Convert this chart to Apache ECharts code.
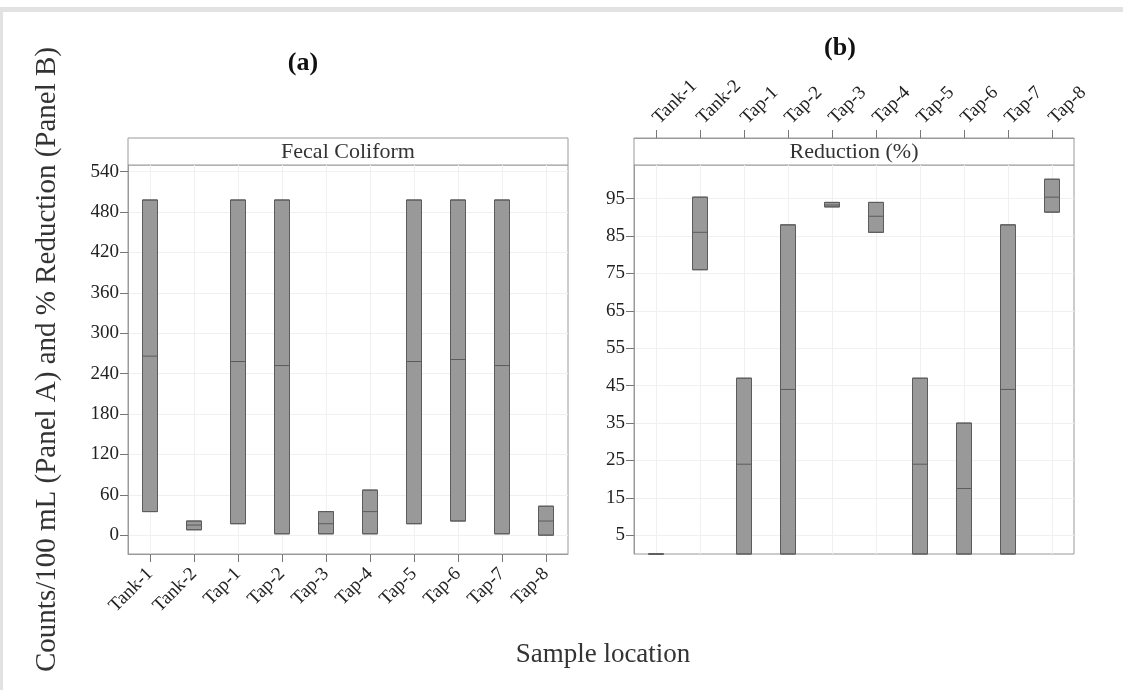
<!DOCTYPE html>
<html>
<head>
<meta charset="utf-8">
<script src="https://cdn.jsdelivr.net/npm/echarts@6/dist/echarts.min.js"></script>
<style>
  html, body { margin: 0; padding: 0; background: #fff; }
  #chart { width: 1123px; height: 690px; }
</style>
</head>
<body>
<div id="chart"></div>
<script>
// sample locations (same order in both panels)
const categories = ["Tank-1", "Tank-2", "Tap-1", "Tap-2", "Tap-3", "Tap-4", "Tap-5", "Tap-6", "Tap-7", "Tap-8"]

// panel (a): fecal coliform counts/100 mL  (low, median, high)
const fecalLow = [35, 8, 17, 2, 2, 2, 17, 21, 2, 0]
const fecalMedian = [266, 15, 258, 252, 17, 35, 258, 261, 252, 21]
const fecalHigh = [498, 21, 498, 498, 35, 67, 498, 498, 498, 43]
const fecalTicks = [0, 60, 120, 180, 240, 300, 360, 420, 480, 540]

// panel (b): reduction (%)  (low, median, high)
const reductionLow = [0, 76, 0, 0, 92.8, 86, 0, 0, 0, 91.4]
const reductionMedian = [0, 86, 24, 44, 93.3, 90.3, 24, 17.5, 44, 95.4]
const reductionHigh = [0, 95.4, 47, 88, 94, 94, 47, 35, 88, 100.2]
const reductionTicks = [5, 15, 25, 35, 45, 55, 65, 75, 85, 95]

const FONT = "Liberation Serif"
const BORDER = "#9a9a9a"
const GRID_LINE = "#f0f0f0"

// box = [min, Q1, median, Q3, max] with no whiskers
const toBoxes = (lo, med, hi) => lo.map((v, i) => [v, v, med[i], hi[i], hi[i]])

const chart = echarts.init(document.getElementById("chart"), null, { renderer: "canvas" })

const valueAxis = (gridIndex, min, max, ticks, name) => ({
  type: "value",
  gridIndex,
  min,
  max,
  name,
  nameLocation: "middle",
  nameGap: 66,
  nameTextStyle: { fontFamily: FONT, fontSize: 29, color: "#333" },
  axisLine: { show: true, onZero: false, lineStyle: { color: BORDER } },
  axisTick: { show: true, length: 8, customValues: ticks, lineStyle: { color: "#777" } },
  axisLabel: { customValues: ticks, fontFamily: FONT, fontSize: 19, color: "#222", margin: 9 },
  splitLine: { show: true, lineStyle: { color: GRID_LINE } },
})

const categoryAxis = (gridIndex, position, offset, rotate) => ({
  type: "category",
  gridIndex,
  data: categories,
  position,
  offset,
  axisLine: { show: true, onZero: false, lineStyle: { color: BORDER } },
  axisTick: { show: true, alignWithLabel: true, length: 8, lineStyle: { color: "#777" } },
  axisLabel: { rotate, fontFamily: FONT, fontSize: 19, color: "#222", margin: 17 },
  splitLine: { show: true, alignWithLabel: true, lineStyle: { color: GRID_LINE } },
})

const boxSeries = (index, data) => ({
  type: "boxplot",
  xAxisIndex: index,
  yAxisIndex: index,
  data,
  boxWidth: [15, 15],
  silent: true,
  itemStyle: { color: "#999999", borderColor: "#5c5c5c", borderWidth: 1 },
})

const strip = (x, label) => [
  {
    type: "rect",
    shape: { x, y: 138, width: 440, height: 27 },
    style: { fill: "#fff", stroke: BORDER, lineWidth: 1 },
  },
  {
    type: "text",
    x: x + 220,
    y: 152,
    style: { text: label, font: `22px "${FONT}"`, fill: "#333", align: "center", verticalAlign: "middle" },
  },
]

chart.setOption({
  animation: false,
  grid: [
    { left: 128, top: 165, width: 440, height: 389, show: true, borderColor: BORDER, borderWidth: 1 },
    { left: 634, top: 165, width: 440, height: 389, show: true, borderColor: BORDER, borderWidth: 1 },
  ],
  xAxis: [categoryAxis(0, "bottom", 0, 45), categoryAxis(1, "top", 27, -45)],
  yAxis: [
    valueAxis(0, -28, 550, fecalTicks, "Counts/100 mL (Panel A) and % Reduction (Panel B)"),
    valueAxis(1, 0, 104, reductionTicks, ""),
  ],
  series: [
    boxSeries(0, toBoxes(fecalLow, fecalMedian, fecalHigh)),
    boxSeries(1, toBoxes(reductionLow, reductionMedian, reductionHigh)),
  ],
  graphic: [
    // page frame
    { type: "rect", shape: { x: 0, y: 7, width: 1123, height: 5 }, style: { fill: "#e2e2e2" } },
    { type: "rect", shape: { x: 0, y: 12, width: 3, height: 678 }, style: { fill: "#e2e2e2" } },
    ...strip(128, "Fecal Coliform"),
    ...strip(634, "Reduction (%)"),
    {
      type: "text", x: 303, y: 63,
      style: { text: "(a)", font: `bold 26px "${FONT}"`, fill: "#111", align: "center", verticalAlign: "middle" },
    },
    {
      type: "text", x: 840, y: 48,
      style: { text: "(b)", font: `bold 26px "${FONT}"`, fill: "#111", align: "center", verticalAlign: "middle" },
    },
    {
      type: "text", x: 603, y: 655,
      style: { text: "Sample location", font: `27px "${FONT}"`, fill: "#333", align: "center", verticalAlign: "middle" },
    },
  ],
})
</script>
</body>
</html>
